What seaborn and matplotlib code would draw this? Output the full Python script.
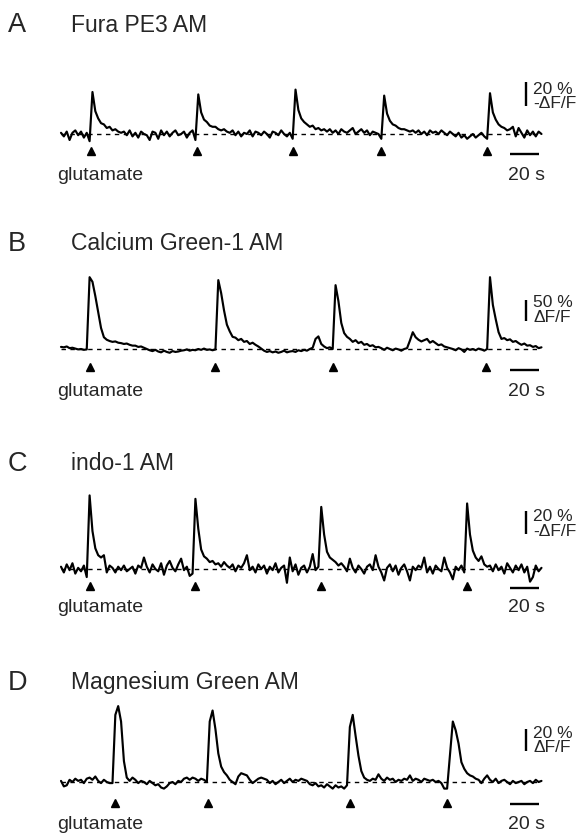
import numpy as np
import pandas as pd
import matplotlib
matplotlib.use("Agg")
import matplotlib.pyplot as plt
import seaborn as sns

# ---------------- data ----------------
panel_letters = ["A", "B", "C", "D"]
dye_names = ["Fura PE3 AM", "Calcium Green-1 AM", "indo-1 AM", "Magnesium Green AM"]
amp_top_labels = ["20 %", "50 %", "20 %", "20 %"]
amp_bottom_labels = ["-\u0394F/F", "\u0394F/F", "-\u0394F/F", "\u0394F/F"]
amp_values = [20, 50, 20, 20]          # % of the vertical scale bar
stim_label = "glutamate"
time_bar_s = 20
time_bar_label = "20 s"
sample_dt = 2.0                        # s between samples

# stimulus (glutamate) times, s
stim_a = [21, 95, 162, 224, 298]
stim_b = [20, 108, 190, 297]
stim_c = [20, 94, 182, 284]
stim_d = [38, 103, 202, 270]

# fluorescence traces, % (one value every 2 s)
trace_a = [1, -2, 2, -5, 1, 3, -1, 2, -3, 1, -6,
           35,
           19, 13, 9, 8, 5, 6, 3, 4, 2, 1,
           2, -1, 3, -2, 1, -3, 2, 0, -1, -5, 2, 1, -4, 3, -1, 2, -2, 1, 3, -1, 0, 2, -3, 1, 3, -5,
           33,
           18, 12, 10, 7, 6, 6, 4, 3, 4, 2,
           1, 3, -1, 2, -2, 1, 0, 3, -2, 2, 1, -1, 2, 0, -3, 2, 1, -1, 3, 0, -2, 1, -4,
           37,
           20, 13, 10, 8, 6, 7, 4, 5, 3, 4,
           2, 4, 1, 3, 0, 4, 2, 1, 3, 5, 0, 2, 4, 1, 3, -1, 2, 1, 0, -4,
           32,
           17, 11, 8, 7, 5, 4, 4, 3, 2, 3,
           1, 3, 0, 2, -1, 3, 1, 2, 0, 3, 1, -1, 2, 0, -2, 1, -3, -1, -4, -2, 0, -3, -1, 1, -2, -4,
           34,
           18, 12, 8, 6, 5, 3, 4, 6, -2, 5,
           1, -3, 3, -1, 2, -2, 2, 0]

trace_b = [5, 4, 6, 2, 3, 1, -1, 0, -2, -1,
           171,
           160, 126, 88, 50, 28, 22, 19, 17, 18, 15, 14, 12, 13, 10, 8, 8, 5, 6, 3,
           0, -3, -5, -2, -6, -8, -4, -7, -9, -5, -7, -6, -4, -3, -1, -4, -2, -3, 0, -2, 1, -2, -1, -3, -1,
           164,
           133, 92, 58, 42, 29, 27, 21, 24, 17, 19, 12, 15, 10, 6, 1, -4, -7,
           -5, -8, -6, -9, -7, -4, -8, -6, -5, -7, -3, -5, -2, -4, 0, 3, 24, 30, 12, 6, 2, 4, 0,
           152,
           114, 62, 38, 29, 24, 17, 21, 14, 17, 10, 12, 7, 9, 4, 5,
           2, -2, 3, 0, -3, 1, -1, -4, 0, 2,
           20, 40,
           28, 22, 18, 21, 24, 15, 19, 14, 9, 11, 6, 4, 2,
           0, -3, 2, -1, -7, 1, -2, 0, -3, 1, -1, -4, 0,
           171,
           105, 71, 40, 24, 26, 21, 23, 17, 19, 14, 10, 13, 8, 9, 5, 7, 2, 4]

trace_c = [2, -3, 4, -1, 5, -4, 1, -2, 3, -7,
           64,
           33, 18, 12, 10, 12, -3, 3,
           1, -3, 2, -1, 3, -2, 0, 2, -4, 3, 1, 10, 2, -3, 4, 0, -2, 5, -5, 3, 7, 1, -2, 4, 9, -1, 2, -6, -4,
           61,
           35, 17, 11, 9, 6, 7, 4,
           5, 2, 6, 3, 1, 4, -2, 3, 1, 5, 12, -1, 2, -3, 4, 0, 3, -4, 2, -1, 5, -3, 1, 3, -12, 10, -2, 4, -5, 1,
           3, -3, 2, 13, -1, 2,
           54,
           30, 15, 10, 8, 6, 3, 5,
           2, -2, 9, 1, -3, 3, 0, -4, 2, 4, -1, 12, 2, -3, -10, 1, 4, -2, 3, -5, 1, 4, -2, -10, 2, -1, 3, 1, 10,
           -3, 2, -4, 3, 0, -2, 10, 1, -3, -9, 2, -1, 3, -3,
           57,
           30, 16, 10, 7, 11, 4, 2,
           3, -2, 4, -1, 2, -4, 5, 1, -3, 3, -1, 4, -3, 2, -11, -7, 3, -2, 1]

trace_d = [1, -4, -3, 2, 0, 3, 1, 2, -1, 3, 4, 2, 5, 1, -1, 2, 0, -1,
           -1, 61, 69, 55, 19, 4,
           1, 4, 2, -1, 1, 0, -2, 1, -1, -3, -2, -5, -6, -4, -1, 0, -2, 1, 0, 3, 4, 2, 4, 3, 1, 3, 2, 0,
           55, 65, 48, 26, 14, 9, 6, 2,
           0, -2, 5, 8, 7, 6, 2, -1, 1, 3, 4, 3, 2, -1, 1, -2, 0, 2, -1, 1, 3, 0, 2, 1, 3, 2, 1, -2, -3, -1,
           -4, -3, -5, -2, -4, -6, -3, -5, -4, -6, -3,
           50, 61, 42, 24, 10, 4,
           2, 1, 3, 2, 7, 3, 1, 4, 2, 3, 0, 2, 1, 3, 2, 6, 1, 3, 2, 0, 3, 2, 1, 2, 0, 1, -1, -6,
           -6,
           25, 55, 47, 35, 18, 12, 8, 6, 5, 3,
           2, -1, 3, 6, 2, 0, 3, -1, 1, 2, 0, -2, 1, -1, 0, 1, -2, 0, 1, -1, 2, 0, 1]

traces = [trace_a, trace_b, trace_c, trace_d]
stims = [stim_a, stim_b, stim_c, stim_d]

# ---------------- layout (pixels) ----------------
W, H = 581, 837
DPI = 100
X0 = 61.0          # px of t = 0
PXS = 1.43         # px per second
layout = [
    dict(y0=135, s=1.20, top=60, bot=200, title=25, tri=152, lab=176, tbar=155, sb=107, st1=89, st2=103),
    dict(y0=350, s=0.42, top=255, bot=420, title=244, tri=368, lab=392, tbar=371, sb=322, st1=303, st2=317),
    dict(y0=570, s=1.15, top=475, bot=640, title=464, tri=587, lab=608, tbar=589, sb=535, st1=517, st2=531),
    dict(y0=783, s=1.10, top=695, bot=837, title=683, tri=804, lab=825, tbar=805, sb=752, st1=734, st2=748),
]

sns.set_theme(style="white")
plt.rcParams["font.family"] = ["Liberation Sans", "DejaVu Sans"]

fig = plt.figure(figsize=(W / DPI, H / DPI), dpi=DPI)
fig.patch.set_facecolor("white")


def fx(px):
    return px / W


def fy(py):
    return 1 - py / H


for i in range(4):
    L = layout[i]
    ax = fig.add_axes([0, 1 - L["bot"] / H, 1, (L["bot"] - L["top"]) / H])
    ax.set_facecolor("none")
    ax.set_xlim((0 - X0) / PXS, (W - X0) / PXS)
    ax.set_ylim((L["y0"] - L["bot"]) / L["s"], (L["y0"] - L["top"]) / L["s"])
    ax.axis("off")

    vals = traces[i]
    t = np.arange(len(vals)) * sample_dt
    df = pd.DataFrame({"t": t, "v": vals})
    ax.plot([t[0], t[-1]], [0, 0], color="black", lw=1.0, ls=(0, (3.2, 3.2)))
    sns.lineplot(data=df, x="t", y="v", ax=ax, color="black", lw=1.55,
                 estimator=None, sort=False)

    def ty(py, L=L):
        return (L["y0"] - py) / L["s"]

    ax.plot(stims[i], [ty(L["tri"])] * len(stims[i]), ls="none", marker="^",
            color="black", ms=5.4, clip_on=False)
    tb0 = (510 - X0) / PXS
    ax.plot([tb0, tb0 + time_bar_s], [ty(L["tbar"])] * 2, color="black", lw=1.7,
            solid_capstyle="butt", clip_on=False)
    xb = (526 - X0) / PXS
    yb = ty(L["sb"])
    ax.plot([xb, xb], [yb, yb + amp_values[i]], color="black", lw=1.7,
            solid_capstyle="butt", clip_on=False)

    fig.text(fx(8), fy(L["title"]), panel_letters[i], fontsize=19.5, va="center", ha="left")
    fig.text(fx(71), fy(L["title"]), dye_names[i], fontsize=16.5, va="center", ha="left")
    fig.text(fx(57), fy(L["lab"]), stim_label, fontsize=14, va="center", ha="left")
    fig.text(fx(545), fy(L["lab"]), time_bar_label, fontsize=14, va="center", ha="right")
    fig.text(fx(533), fy(L["st1"]), amp_top_labels[i], fontsize=12.5, va="center", ha="left")
    fig.text(fx(533), fy(L["st2"]), amp_bottom_labels[i], fontsize=12.5, va="center", ha="left")

fig.savefig("out.png", dpi=DPI, facecolor="white")
